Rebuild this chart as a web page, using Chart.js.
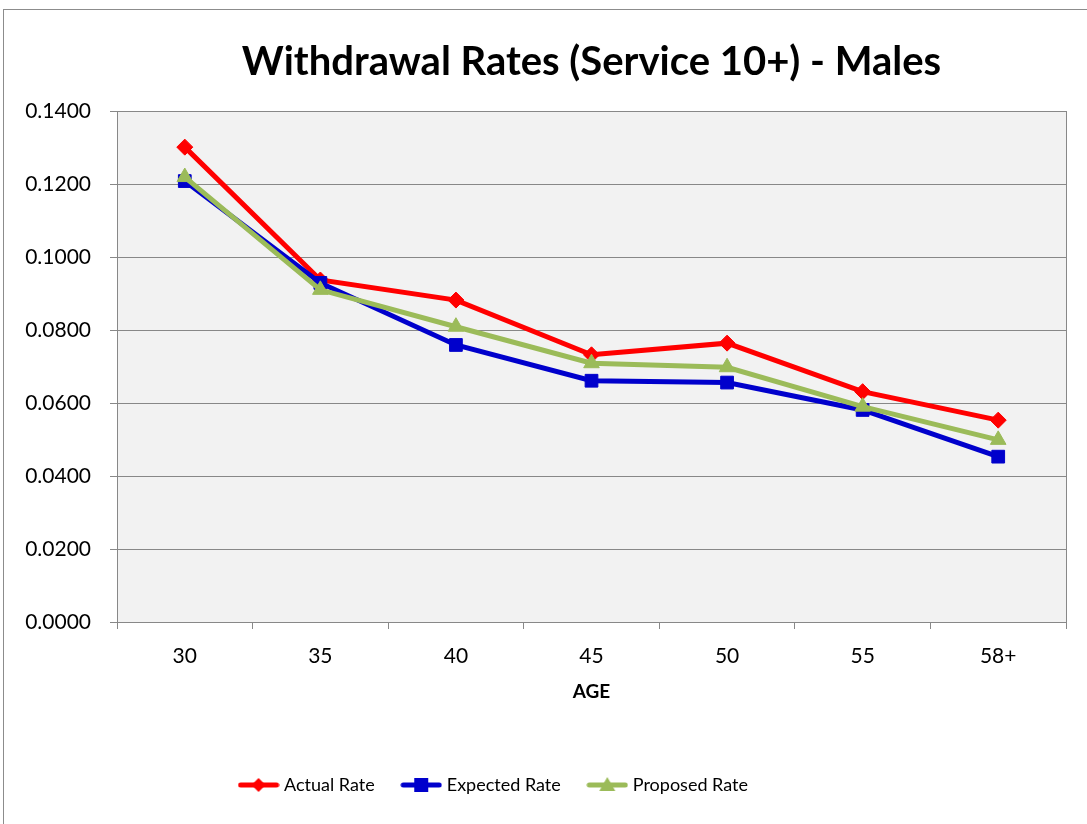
<!DOCTYPE html>
<html>
<head>
<meta charset="utf-8">
<script src="https://cdn.jsdelivr.net/npm/chart.js@4"></script>
<style>
  html, body { margin: 0; padding: 0; background: #ffffff; }
  #wrap { width: 1087px; height: 824px; position: relative; }
</style>
</head>
<body>
<div id="wrap"><canvas id="chart" width="1087" height="824"></canvas></div>
<script>
// Age bands on the x axis
const ages = ['30', '35', '40', '45', '50', '55', '58+'];

// Withdrawal rates by age band
const actualRate   = [0.1301, 0.0937, 0.0882, 0.0732, 0.0764, 0.0631, 0.0553];
const expectedRate = [0.1208, 0.0929, 0.0759, 0.0661, 0.0656, 0.0581, 0.0453];
const proposedRate = [0.1219, 0.0910, 0.0809, 0.0709, 0.0698, 0.0590, 0.0499];

const seriesNames = ['Actual Rate', 'Expected Rate', 'Proposed Rate'];

const FONT = 'Lato, "Open Sans", sans-serif';
const RED = '#FF0000', BLUE = '#0000CC', GREEN = '#9BBB59';
const GRID = '#888888';

// Small line-with-marker swatch used as the legend symbol
function swatch(color, style) {
  const c = document.createElement('canvas');
  c.width = 42; c.height = 18;
  const g = c.getContext('2d');
  g.strokeStyle = color; g.lineWidth = 5; g.lineCap = 'round';
  g.beginPath(); g.moveTo(3, 9); g.lineTo(39, 9); g.stroke();
  g.fillStyle = color;
  g.beginPath();
  if (style === 'rectRot') {
    g.moveTo(21, 2); g.lineTo(28, 9); g.lineTo(21, 16); g.lineTo(14, 9);
  } else if (style === 'rect') {
    g.rect(14, 2, 14, 14);
  } else {
    g.moveTo(21, 1); g.lineTo(29, 15); g.lineTo(13, 15);
  }
  g.closePath(); g.fill();
  return c;
}

// Plot background, right edge of the plot and the outer frame
const framePlugin = {
  id: 'frame',
  afterLayout(chart) {
    // legend sits a little left of centre, under the axis labels
    const lg = chart.legend;
    if (lg) { lg.left -= 38; lg.right -= 38; }
  },
  beforeDraw(chart) {
    const { ctx, chartArea: a } = chart;
    ctx.save();
    ctx.fillStyle = '#F2F2F2';
    ctx.fillRect(a.left, a.top, a.right - a.left, a.bottom - a.top);
    ctx.strokeStyle = '#8C8C8C';
    ctx.lineWidth = 1;
    ctx.strokeRect(3.5, 9.5, 1200, 1000);
    ctx.restore();
  },
  beforeDatasetsDraw(chart) {
    const { ctx, chartArea: a } = chart;
    ctx.save();
    ctx.strokeStyle = GRID;
    ctx.lineWidth = 1;
    ctx.beginPath();
    ctx.moveTo(Math.round(a.right) + 0.5, a.top);
    ctx.lineTo(Math.round(a.right) + 0.5, a.bottom);
    ctx.stroke();
    ctx.restore();
  }
};

const styles = ['rectRot', 'rect', 'triangle'];
const colors = [RED, BLUE, GREEN];
const values = [actualRate, expectedRate, proposedRate];

new Chart(document.getElementById('chart'), {
  type: 'line',
  data: {
    labels: ages,
    datasets: values.map((v, i) => ({
      label: seriesNames[i],
      data: v,
      order: 3 - i,
      borderColor: colors[i],
      backgroundColor: colors[i],
      borderWidth: 5,
      pointStyle: styles[i],
      pointRadius: [8, 9, 9][i],
      pointBorderWidth: 1,
      pointHoverRadius: 9,
      tension: 0
    }))
  },
  options: {
    responsive: false,
    animation: false,
    devicePixelRatio: 1,
    layout: { padding: { left: 0, right: 21, top: 0, bottom: 20 } },
    plugins: {
      title: {
        display: true,
        fullSize: false,
        text: 'Withdrawal Rates (Service 10+) - Males',
        color: '#000000',
        font: { family: FONT, size: 40, weight: 'bold' },
        padding: { top: 38, bottom: 25 }
      },
      legend: {
        position: 'bottom',
        labels: {
          usePointStyle: true,
          pointStyleWidth: 33,
          color: '#000000',
          font: { family: FONT, size: 18 },
          padding: 30,
          generateLabels(chart) {
            return seriesNames.map((name, i) => ({
              text: name,
              pointStyle: swatch(colors[i], styles[i]),
              fillStyle: colors[i],
              strokeStyle: colors[i],
              lineWidth: 0,
              datasetIndex: i,
              fontColor: '#000000'
            }));
          }
        }
      },
      tooltip: { enabled: false }
    },
    scales: {
      x: {
        offset: true,
        grid: { display: true, drawOnChartArea: false, drawTicks: true, tickLength: 7, color: GRID, offset: true },
        border: { display: false },
        ticks: { color: '#000000', font: { family: FONT, size: 21 }, padding: 15 },
        title: {
          display: true, text: 'AGE', color: '#000000',
          font: { family: FONT, size: 19, weight: 'bold' },
          padding: { top: 8, bottom: 43 }
        },
        afterFit(scale) { scale.height = 124; }
      },
      y: {
        min: 0, max: 0.14,
        ticks: {
          stepSize: 0.02,
          color: '#000000',
          font: { family: FONT, size: 21 },
          padding: 19,
          callback: v => Number(v).toFixed(4)
        },
        grid: { color: GRID, tickLength: 7, lineWidth: 1 },
        border: { display: true, color: GRID, width: 1 },
        afterFit(scale) { scale.width = 117; }
      }
    }
  },
  plugins: [framePlugin]
});
</script>
</body>
</html>
